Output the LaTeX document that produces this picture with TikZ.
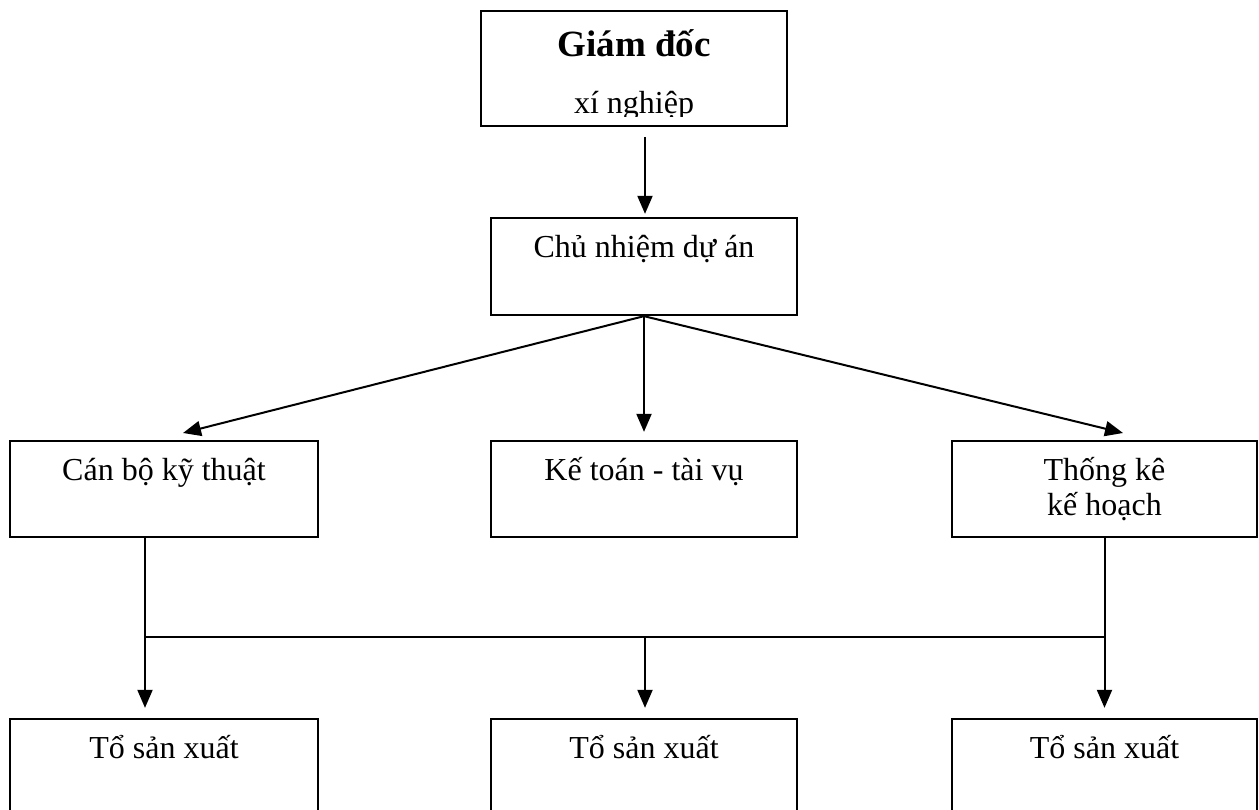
\documentclass[tikz,border=0pt]{standalone}
\usepackage{fontspec}
\setmainfont{Liberation Serif}
\usetikzlibrary{arrows.meta,calc}
\begin{document}
\begin{tikzpicture}[x=1pt,y=-1pt,
  box/.style={draw,line width=2.3pt,minimum height=97pt,inner sep=0pt},
  lbl/.style={font=\fontsize{32}{35}\selectfont,inner sep=0pt,anchor=base},
  ttl/.style={font=\fontsize{37}{40}\selectfont\bfseries,inner sep=0pt,anchor=base},
  ln/.style={line width=2pt},
  arr/.style={line width=2pt,-{Triangle[length=18pt,width=15pt]}}]
\clip (0,0) rectangle (1259,810);
\fill[white] (0,0) rectangle (1259,810);
% boxes
\node[box,minimum width=306pt,minimum height=115pt] (gd) at (634,68.5) {};
\node[box,minimum width=306pt] (cn) at (644,266.5) {};
\node[box,minimum width=308pt,minimum height=96pt] (cb) at (164,489) {};
\node[box,minimum width=306pt,minimum height=96pt] (kt) at (644,489) {};
\node[box,minimum width=305pt,minimum height=96pt] (tk) at (1104.5,489) {};
\node[box,minimum width=308pt] (ts1) at (164,767.5) {};
\node[box,minimum width=306pt] (ts2) at (644,767.5) {};
\node[box,minimum width=305pt] (ts3) at (1104.5,767.5) {};
% texts
\node[ttl] (t-gd) at ([yshift=-47pt]gd.north) {Giám đốc};
\begin{scope}
\clip (gd.west |- 0,0) rectangle (gd.east |- 0,117);
\node[lbl] (t-gd2) at ([yshift=-104pt]gd.north) {xí nghiệp};
\end{scope}
\node[lbl] (t-cn) at ([yshift=-41pt]cn.north) {Chủ nhiệm dự án};
\node[lbl] (t-cb) at ([yshift=-41pt]cb.north) {Cán bộ kỹ thuật};
\node[lbl] (t-kt) at ([yshift=-41pt]kt.north) {Kế toán - tài vụ};
\node[lbl] (t-tk) at ([yshift=-41pt]tk.north) {Thống kê};
\node[lbl] (t-tk2) at ([yshift=-76pt]tk.north) {kế hoạch};
\node[lbl] (t-ts1) at ([yshift=-41pt]ts1.north) {Tổ sản xuất};
\node[lbl] (t-ts2) at ([yshift=-41pt]ts2.north) {Tổ sản xuất};
\node[lbl] (t-ts3) at ([yshift=-41pt]ts3.north) {Tổ sản xuất};
% connectors
\coordinate (top) at (645,137);
\draw[arr,shorten >=3pt] (top) -- (top |- cn.north);
\coordinate (tipl) at (183,433);
\coordinate (tipr) at (1123,433);
\draw[arr] (cn.south) -- (tipl);
\draw[arr] (cn.south) -- (tipr);
\draw[arr,shorten >=8pt] (cn.south) -- (kt.north);
\coordinate (jl) at (145,637);
\coordinate (jr) at (1104.5,637);
\coordinate (jm) at (645,637);
\draw[ln] (cb.south -| jl) -- (jl) -- (jr) -- (tk.south);
\draw[arr,shorten >=10pt] (jl) -- (ts1.north -| jl);
\draw[arr,shorten >=10pt] (jm) -- (ts2.north -| jm);
\draw[arr,shorten >=10pt] (jr) -- (ts3.north);
\end{tikzpicture}
\end{document}
